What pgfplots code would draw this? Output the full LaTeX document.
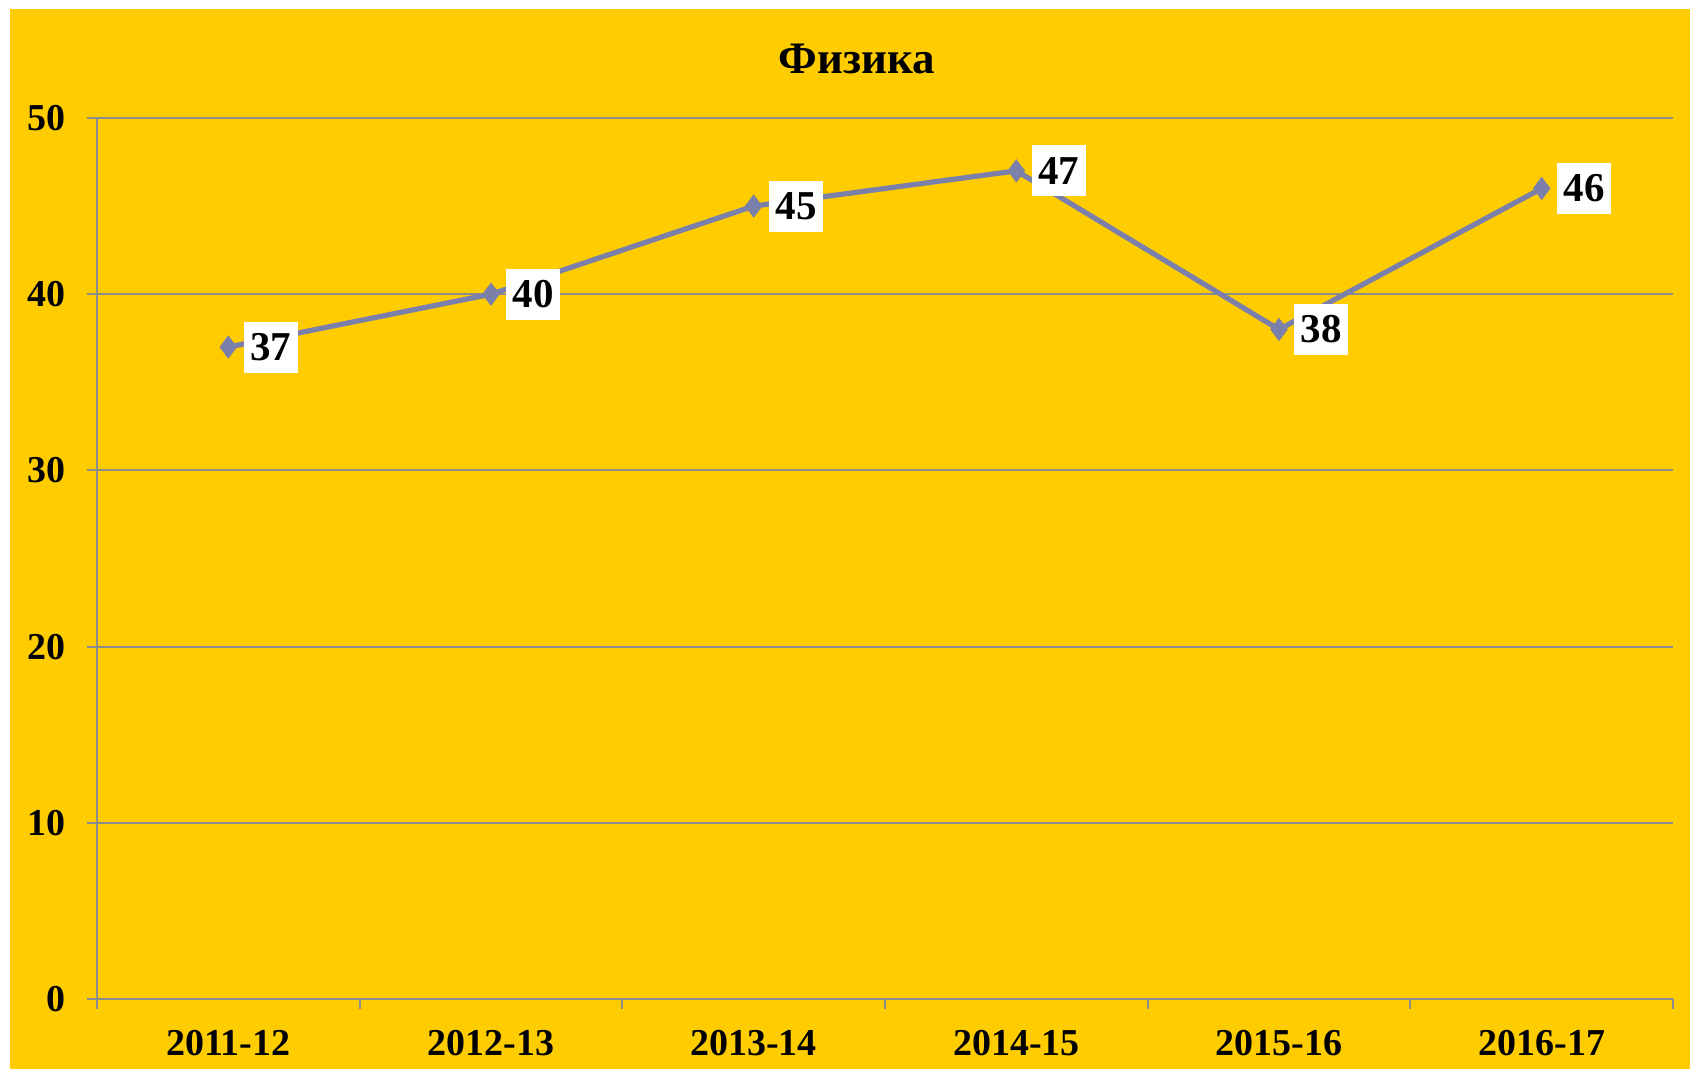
\documentclass[border=0pt]{standalone}
\usepackage{fontspec}
\setmainfont{Liberation Serif}
\usepackage{pgfplots}
\pgfplotsset{compat=1.18}
\definecolor{bgyellow}{HTML}{FFCC00}
\definecolor{gridgray}{HTML}{8C8C8C}
\definecolor{linecol}{HTML}{7A80AA}

\begin{document}
\begin{tikzpicture}
\useasboundingbox (-48.5pt,-38pt) rectangle (796.5pt,499.5pt);
\fill[white] (-48.5pt,-38pt) rectangle (796.5pt,499.5pt);
\fill[bgyellow] (-43.5pt,-35pt) rectangle (796.5pt,495pt);
\begin{axis}[
  at={(0,0)}, anchor=south west,
  scale only axis, width=788pt, height=440.5pt,
  xmin=-0.5, xmax=5.5, ymin=0, ymax=50,
  axis lines*=left,
  axis line style={gridgray, line width=1pt},
  tick style={gridgray, line width=1pt},
  tick align=outside, major tick length=5pt,
  ymajorgrids, grid style={gridgray, line width=1pt},
  ytick={0,10,...,50},
  xtick={-0.5,0.5,...,5.5},
  x tick label as interval,
  xticklabels={2011-12,2012-13,2013-14,2014-15,2015-16,2016-17},
  /pgf/number format/assume math mode=true,
  yticklabel style={font=\fontsize{19}{22}\selectfont\bfseries, anchor=east, inner sep=0pt, xshift=-10.5pt},
  xticklabel style={font=\fontsize{19}{22}\selectfont\bfseries, anchor=base, inner sep=0pt, yshift=-23pt},
  nodes near coords,
  every node near coord/.style={anchor=west, xshift=7.5pt, fill=white, inner sep=0pt,
    minimum width=27pt, minimum height=25.5pt, text=black,
    font=\fontsize{20.5}{24}\selectfont\bfseries},
]
\addplot[linecol, line width=2.6pt, mark=diamond*, mark size=5.5pt,
  mark options={solid, fill=linecol, draw=linecol, line width=0.4pt}]
  coordinates {(0,37) (1,40) (2,45) (3,47) (4,38) (5,46)};
\end{axis}
\node[font=\fontsize{22.5}{26}\selectfont\bfseries] at (380pt,470pt) {Физика};
\end{tikzpicture}
\end{document}
